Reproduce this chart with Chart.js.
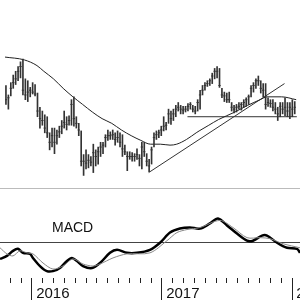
<!DOCTYPE html>
<html>
<head>
<meta charset="utf-8">
<script src="https://cdn.jsdelivr.net/npm/chart.js@4/dist/chart.umd.min.js"></script>
<style>
  html, body { margin: 0; padding: 0; background: #fff; overflow: hidden; width: 300px; height: 300px; }
  #price { position: absolute; left: 0; top: 0; }
  #divider { position: absolute; left: 0; top: 188px; width: 300px; height: 1px; background: #bbb; }
  #macd { position: absolute; left: 0; top: 189px; }
  #macdTitle { position: absolute; left: 52px; top: 220px; font: 14px "Liberation Sans", Arial, sans-serif; line-height: 14px; color: #111; }
</style>
</head>
<body>
<canvas id="price" width="340" height="188"></canvas>
<div id="divider"></div>
<canvas id="macd" width="340" height="116"></canvas>
<div id="macdTitle">MACD</div>
<script>
// x values are months counted from Jan 2016, one bar per week
const firstWeek = -2.86
const weekStep = 12 / 52
const xMin = -2.95
const xMax = 28.43
const yearLabels = ['2016', '2017', '2018']

const highs = [115, 105, 118, 126, 130, 135, 140, 143, 122, 120, 113, 118, 116, 107, 92, 88, 84, 82, 65, 70,
  70, 68, 72, 78, 88, 82, 83, 100, 103, 82, 75, 67, 42, 47, 42, 40, 53, 47, 50, 55,
  55, 63, 68, 66, 68, 65, 67, 65, 63, 52, 45, 45, 44, 43, 48, 42, 55, 55, 43, 37,
  50, 65, 67, 68, 72, 82, 76, 90, 88, 90, 94, 97, 94, 93, 93, 96, 97, 94, 93, 100,
  110, 115, 118, 120, 122, 128, 133, 135, 133, 112, 108, 107, 108, 97, 94, 95, 97, 97, 100, 102,
  105, 115, 118, 122, 125, 120, 117, 117, 102, 100, 100, 97, 92, 97, 97, 102, 97, 97, 100, 98]
const lows = [95, 90, 104, 112, 116, 120, 123, 105, 100, 98, 103, 106, 104, 82, 70, 73, 65, 60, 47, 50,
  43, 53, 60, 64, 70, 68, 73, 73, 72, 70, 62, 30, 20, 27, 28, 30, 23, 30, 32, 40,
  43, 50, 57, 58, 58, 52, 55, 50, 40, 42, 25, 37, 35, 35, 37, 30, 27, 40, 30, 24,
  32, 50, 58, 60, 62, 67, 68, 75, 74, 78, 82, 88, 85, 85, 87, 88, 90, 87, 85, 88,
  90, 105, 110, 114, 115, 117, 122, 123, 113, 102, 98, 97, 97, 88, 86, 87, 90, 89, 92, 93,
  95, 103, 108, 112, 115, 107, 103, 90, 93, 92, 88, 85, 78, 82, 85, 83, 82, 80, 82, 85]
const closes = [100, 102, 112, 118, 122, 130, 135, 110, 105, 108, 110, 108, 106, 88, 80, 78, 70, 65, 55, 62,
  55, 62, 66, 72, 76, 74, 78, 95, 80, 75, 68, 35, 35, 33, 36, 34, 44, 40, 45, 50,
  52, 60, 62, 62, 63, 58, 60, 55, 48, 45, 40, 40, 40, 40, 42, 38, 50, 45, 35, 30,
  47, 60, 63, 65, 68, 72, 73, 85, 80, 85, 90, 92, 90, 89, 90, 93, 95, 90, 88, 97,
  105, 110, 115, 117, 120, 125, 130, 130, 115, 105, 104, 100, 100, 92, 90, 92, 93, 95, 97, 100,
  103, 112, 115, 120, 120, 112, 110, 95, 97, 96, 92, 90, 85, 93, 90, 92, 88, 92, 90, 92]

const maMonths = [-2.95, -1.11, 0.09, 0.74, 1.66, 2.58, 3.51, 4.43, 5.35, 6.28, 7.2, 8.12, 9.05, 9.97, 10.89,
  11.82, 12.74, 13.38, 14.31, 15.23, 15.51, 16.43, 17.35, 18.92, 20.12, 21.32, 21.97, 23.35, 24.74]
const maValues = [145, 142, 136, 130, 122, 112, 103, 95, 87, 80, 75, 68, 62, 57, 53,
  53, 52, 53, 58, 65, 67, 73, 79, 87, 94, 100, 103, 103, 100]

const trendMonths = [10.71, 23.63]
const trendValues = [23, 117]
const supportMonths = [14.4, 24.8]
const supportValues = [82, 82]

const macdMonths = [-2.95, -2.31, -1.75, -1.29, -0.83, -0.18, 0.09, 0.74, 1.38, 1.94, 2.58, 3.23, 3.69, 4.15,
  4.71, 5.54, 6.28, 7.2, 7.85, 8.77, 9.69, 10.89, 11.82, 12.74, 13.66, 14.58, 15.51, 16.43, 17.17,
  18.0, 18.92, 19.85, 20.4, 21.23, 21.69, 22.62, 23.54, 24.46, 24.74]
const macdValues = [-16, -13, -8, -6, -10, -11, -15, -23, -28, -28, -25, -18, -15, -18,
  -23, -25, -20, -10, -7, -10, -10, -7, 0, 10, 14, 15, 14, 19, 24,
  17, 9, 2, 2, 7, 7, 0, -5, -6, -10]
const signalMonths = [-2.95, -2.31, -1.75, -1.11, -0.46, 0.09, 1.02, 1.94, 2.86, 3.78, 4.71, 5.63, 6.28,
  7.48, 8.77, 10.89, 12.46, 13.38, 14.31, 15.51, 17.35, 18.55, 19.85, 21.05, 21.97, 23.17, 24.74]
const signalValues = [-5, -11, -13, -8, -10, -11, -20, -26, -23, -16, -21, -23, -21,
  -15, -11, -10, 2, 10, 13, 15, 22, 15, 5, 5, 4, -1, -5]

const weeks = highs.map((_, i) => firstWeek + i * weekStep)
const pairs = (xs, ys) => xs.map((x, i) => ({ x: x, y: ys[i] }))

new Chart(document.getElementById('price'), {
  type: 'bar',
  data: {
    datasets: [
      {
        data: weeks.map((x, i) => ({ x: x, y: [lows[i], highs[i]] })),
        backgroundColor: '#333',
        barThickness: 1,
        borderWidth: 0
      },
      {
        type: 'line',
        data: pairs(weeks, closes),
        showLine: false,
        pointStyle: 'line',
        pointRadius: 1.2,
        borderColor: '#444',
        borderWidth: 1
      },
      {
        type: 'line',
        data: pairs(maMonths, maValues),
        borderColor: '#222',
        borderWidth: 1,
        pointRadius: 0,
        cubicInterpolationMode: 'monotone'
      },
      {
        type: 'line',
        data: pairs(trendMonths, trendValues),
        borderColor: '#333',
        borderWidth: 1,
        pointRadius: 0
      },
      {
        type: 'line',
        data: pairs(supportMonths, supportValues),
        borderColor: '#333',
        borderWidth: 1,
        pointRadius: 0
      }
    ]
  },
  options: {
    responsive: false,
    animation: false,
    layout: { padding: 0 },
    plugins: { legend: { display: false }, tooltip: { enabled: false } },
    scales: {
      x: { type: 'linear', display: false, min: xMin, max: xMax, offset: false },
      y: { display: false, min: 12, max: 200 }
    }
  }
})

new Chart(document.getElementById('macd'), {
  type: 'line',
  data: {
    datasets: [
      {
        data: pairs(signalMonths, signalValues),
        borderColor: '#888',
        borderWidth: 1,
        pointRadius: 0,
        tension: 0.3
      },
      {
        data: pairs(macdMonths, macdValues),
        borderColor: '#000',
        borderWidth: 2.5,
        pointRadius: 0,
        tension: 0.3
      }
    ]
  },
  options: {
    responsive: false,
    animation: false,
    layout: { padding: { bottom: 0.8 } },
    plugins: { legend: { display: false }, tooltip: { enabled: false } },
    scales: {
      x: {
        type: 'linear',
        min: xMin,
        max: xMax,
        border: { display: false },
        grid: {
          drawOnChartArea: false,
          tickLength: 23,
          tickColor: '#222',
          tickBorderDash: ctx => (ctx.tick && ctx.tick.value % 12 === 0 ? [] : [5, 60])
        },
        ticks: {
          stepSize: 1,
          includeBounds: false,
          autoSkip: false,
          maxRotation: 0,
          align: 'start',
          crossAlign: 'center',
          padding: -7.5,
          color: '#111',
          font: { family: '"Liberation Sans", Arial, sans-serif', size: 15 },
          callback: value => (value % 12 === 0 ? ' ' + yearLabels[value / 12] : '')
        }
      },
      y: {
        min: -35,
        max: 53,
        ticks: { display: false, stepSize: 5 },
        border: { display: false },
        grid: {
          drawTicks: false,
          color: ctx => (ctx.tick && ctx.tick.value === 0 ? '#444' : 'transparent')
        }
      }
    }
  }
})
</script>
</body>
</html>
